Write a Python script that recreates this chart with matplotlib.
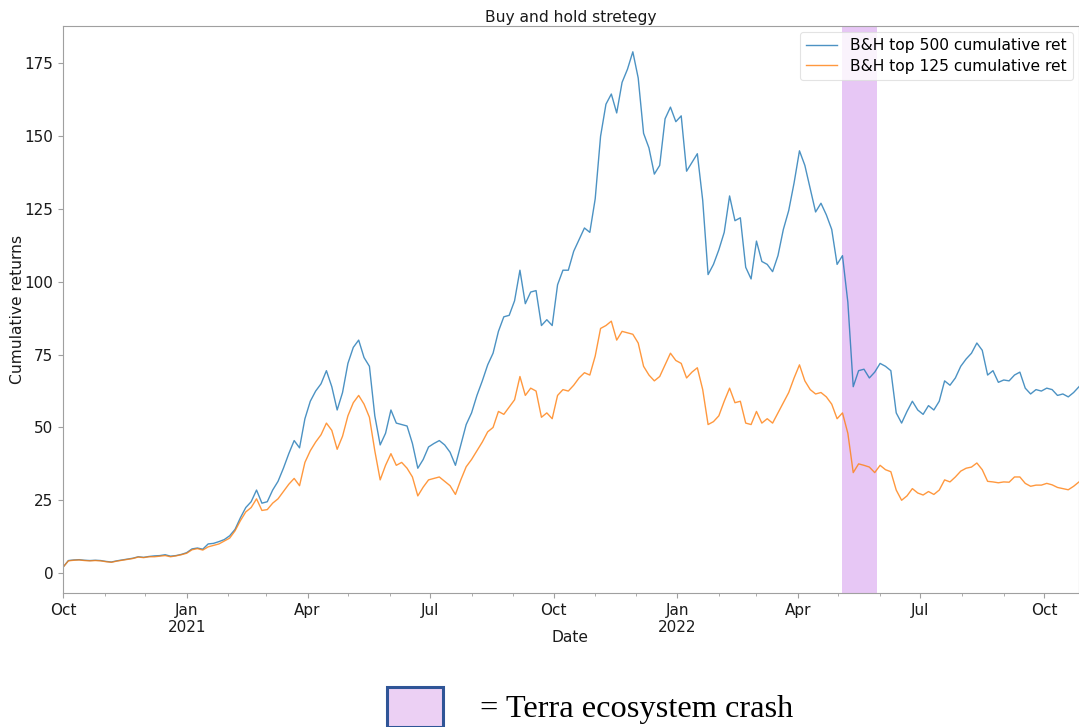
import numpy as np
import pandas as pd
import matplotlib
matplotlib.use("Agg")
import matplotlib.pyplot as plt
import matplotlib.dates as mdates
from matplotlib.patches import Rectangle

# Cumulative returns sampled every 4 days from 2020-10-01
start_date = "2020-10-01"
step_days = 4

top500_ret = [
    2.0, 4.3, 4.5, 4.6, 4.4, 4.3, 4.4, 4.3, 4.0, 3.8,
    4.2, 4.5, 4.8, 5.1, 5.6, 5.4, 5.7, 5.9, 6.0, 6.3,
    5.8, 6.0, 6.4, 7.0, 8.3, 8.6, 8.2, 10.0, 10.2, 10.8,
    11.5, 12.8, 15.0, 19.0, 22.5, 24.5, 28.5, 24.0, 24.5, 28.5,
    31.5, 36.0, 41.0, 45.5, 43.0, 53.0, 59.0, 62.5, 65.0, 69.5,
    64.0, 56.0, 62.0, 72.0, 77.5, 80.0, 74.0, 71.0, 54.0, 44.0,
    48.0, 56.0, 51.5, 51.0, 50.5, 44.5, 36.0, 39.0, 43.3, 44.5,
    45.5, 44.0, 41.5, 37.0, 44.0, 51.0, 55.0, 61.0, 66.0, 71.5,
    75.5, 83.0, 88.0, 88.5, 93.5, 104.0, 92.5, 96.5, 97.0, 85.0,
    87.0, 85.0, 99.0, 104.0, 104.0, 110.5, 114.5, 118.5, 117.0, 128.5,
    150.0, 161.0, 164.5, 158.0, 168.5, 173.0, 179.0, 170.0, 151.0, 146.0,
    137.0, 140.0, 156.0, 160.0, 155.0, 157.0, 138.0, 141.0, 144.0, 128.0,
    102.5, 106.0, 111.0, 117.0, 129.5, 121.0, 122.0, 105.0, 101.0, 114.0,
    107.0, 106.0, 103.5, 109.0, 118.0, 124.5, 134.0, 145.0, 140.0, 132.0,
    124.0, 127.0, 123.0, 118.0, 106.0, 109.0, 93.0, 64.0, 69.5, 70.0,
    67.0, 69.0, 72.0, 71.0, 69.5, 55.0, 51.5, 55.5, 59.0, 56.0,
    54.5, 57.5, 56.0, 59.0, 66.0, 64.5, 67.0, 71.0, 73.5, 75.5,
    79.0, 76.5, 68.0, 69.5, 65.5, 66.3, 66.0, 68.0, 69.0, 63.5,
    61.5, 63.0, 62.5, 63.5, 63.0, 61.0, 61.5, 60.5, 62.0, 64.0,
]

top125_ret = [
    2.0, 4.2, 4.4, 4.5, 4.3, 4.2, 4.3, 4.2, 3.9, 3.7,
    4.1, 4.4, 4.7, 5.0, 5.5, 5.3, 5.6, 5.6, 5.8, 6.0,
    5.6, 5.9, 6.3, 6.8, 8.0, 8.4, 7.9, 9.0, 9.5, 10.0,
    11.0, 12.0, 14.5, 18.0, 21.0, 22.5, 25.5, 21.5, 21.8, 24.0,
    25.5, 28.0, 30.5, 32.5, 30.0, 38.0, 42.0, 45.0, 47.5, 51.5,
    49.0, 42.5, 47.0, 54.0, 58.5, 61.0, 58.0, 53.5, 42.0, 32.0,
    37.0, 41.0, 37.0, 38.0, 36.0, 33.0, 26.5, 29.5, 32.0, 32.5,
    33.0, 31.5, 30.0, 27.0, 32.0, 36.5, 39.0, 42.0, 45.0, 48.5,
    50.0, 55.5, 54.5, 57.0, 59.5, 67.5, 61.0, 63.5, 62.5, 53.5,
    55.0, 53.0, 61.0, 63.0, 62.5, 64.5, 67.0, 68.8, 68.0, 74.5,
    84.0, 85.0, 86.5, 80.0, 83.0, 82.5, 82.0, 79.0, 71.0, 68.0,
    66.0, 67.5, 71.5, 75.5, 73.0, 72.0, 67.0, 69.0, 70.5, 63.0,
    51.0, 52.0, 54.0, 59.0, 63.5, 58.5, 59.0, 51.5, 51.0, 55.5,
    51.5, 53.0, 51.5, 55.0, 58.5, 62.0, 67.0, 71.5, 66.0, 63.0,
    61.5, 62.0, 60.5, 58.0, 53.0, 55.0, 48.0, 34.5, 37.5, 37.0,
    36.4, 34.5, 37.0, 35.5, 34.8, 28.5, 25.0, 26.5, 29.0, 27.5,
    26.8, 28.0, 27.0, 28.5, 32.0, 31.3, 33.0, 35.0, 36.0, 36.4,
    37.8, 35.5, 31.5, 31.3, 31.0, 31.3, 31.2, 33.0, 33.0, 30.8,
    29.8, 30.2, 30.2, 30.8, 30.3, 29.4, 29.0, 28.6, 29.8, 31.3,
]

crash_start = "2022-05-04"
crash_end = "2022-05-30"

series_labels = ["B&H top 500 cumulative ret", "B&H top 125 cumulative ret"]
quarter_labels = ["Oct", "Jan\n2021", "Apr", "Jul", "Oct", "Jan\n2022", "Apr", "Jul", "Oct"]
quarter_dates = ["2020-10-01", "2021-01-01", "2021-04-01", "2021-07-01", "2021-10-01",
                 "2022-01-01", "2022-04-01", "2022-07-01", "2022-10-01"]

dates = pd.date_range(start_date, periods=len(top500_ret), freq=f"{step_days}D")

fig = plt.figure(figsize=(10.79, 7.27), dpi=100)
ax = fig.add_axes([0.0584, 0.1843, 0.9416, 0.7799])

ax.plot(dates, top500_ret, color="#1f77b4", lw=1.0, alpha=0.8, label=series_labels[0])
ax.plot(dates, top125_ret, color="#ff7f0e", lw=1.0, alpha=0.8, label=series_labels[1])
ax.axvspan(pd.Timestamp(crash_start), pd.Timestamp(crash_end), color="#9400d3", alpha=0.22, lw=0)

ax.set_xlim(dates[0], dates[-1])
ax.set_yticks([0, 25, 50, 75, 100, 125, 150, 175])

ax.set_xticks(pd.to_datetime(quarter_dates))
ax.set_xticklabels(quarter_labels)
ax.xaxis.set_minor_locator(mdates.MonthLocator())
ax.xaxis.set_minor_formatter(plt.NullFormatter())

for s in ax.spines.values():
    s.set_color("#a0a0a0")
ax.tick_params(axis="both", which="major", labelsize=11, colors="#a0a0a0",
               labelcolor="#1a1a1a", length=3.5)
ax.tick_params(axis="x", which="minor", colors="#a0a0a0", length=2)

ax.set_title("Buy and hold stretegy", fontsize=11.2, color="#1a1a1a", pad=3)
ax.set_xlabel("Date", fontsize=11.2, color="#1a1a1a")
ax.set_ylabel("Cumulative returns", fontsize=11.2, color="#1a1a1a")
ax.yaxis.set_label_coords(-0.037, 0.5)
ax.xaxis.set_label_coords(0.499, -0.066)

leg = ax.legend(loc="upper right", fontsize=11.2, frameon=True, handlelength=2.0,
                handletextpad=0.8, borderaxespad=0.4, labelspacing=0.35)
leg.get_frame().set_edgecolor("#dddddd")
leg.get_frame().set_linewidth(0.8)

# Key for the shaded period, drawn below the axes
fig.patches.append(Rectangle((387 / 1079, 0.0), 56 / 1079, 40 / 727,
                             transform=fig.transFigure, facecolor="#ecd0f4",
                             edgecolor="#2f5597", lw=2.2, clip_on=False))
fig.text(480 / 1079, 1 - 709 / 727, "= Terra ecosystem crash", family="Liberation Serif",
         fontsize=23.3, color="black", va="center", ha="left")

fig.savefig("out.png", dpi=100)
